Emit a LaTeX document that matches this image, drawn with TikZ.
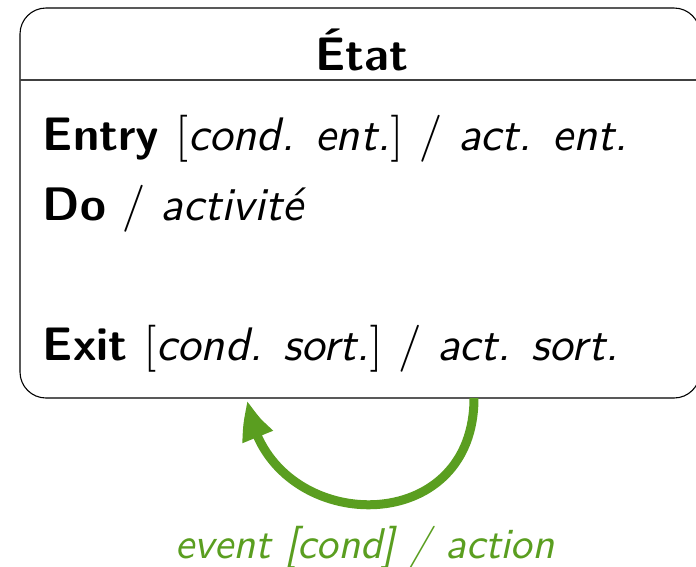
\documentclass[tikz,border=0pt]{standalone}
\usetikzlibrary{arrows.meta,bending}
\definecolor{arrgreen}{RGB}{90,158,32}
\tikzset{
  txt/.style={anchor=base west,inner sep=0pt,scale=4.7,font=\sffamily\fontsize{10}{12}\selectfont},
  ttl/.style={anchor=base,inner sep=0pt,scale=4.7,font=\sffamily\bfseries\fontsize{10}{12}\selectfont},
  lbl/.style={anchor=base,inner sep=0pt,scale=4.3,text=arrgreen,font=\sffamily\itshape\fontsize{10}{12}\selectfont},
  boxline/.style={draw=black,line width=1.1pt},
  trans/.style={draw=arrgreen,line width=9pt,-{Triangle[length=40pt,width=30pt,bend]}}
}
\begin{document}
\begin{tikzpicture}[x=1pt,y=-1pt]
\useasboundingbox (0,0) rectangle (696,566);
\begin{scope}
\clip (0,0) rectangle (696,566);
\draw[boxline,rounded corners=26pt] (20,8) rectangle (700,398);
\draw[boxline,draw=black!75] (20,80) -- (700,80);
\end{scope}
\node[ttl] (title) at (362,70) {État};
\node[txt] (entry) at (42,150) {\textbf{Entry} $[$\textit{cond. ent.}$]$ $/$ \textit{act. ent.}};
\node[txt] (do) at (42,220) {\textbf{Do} $/$ \textit{activité}};
\node[txt] (exit) at (42,360) {\textbf{Exit} $[$\textit{cond. sort.}$]$ $/$ \textit{act. sort.}};
\coordinate (src) at (474,398);
\coordinate (dst) at (248,400);
\draw[trans] (src) .. controls (474,545) and (262,535) .. (dst);
\node[lbl] (ev) at (365,558) {event [cond] / action};
\end{tikzpicture}
\end{document}
